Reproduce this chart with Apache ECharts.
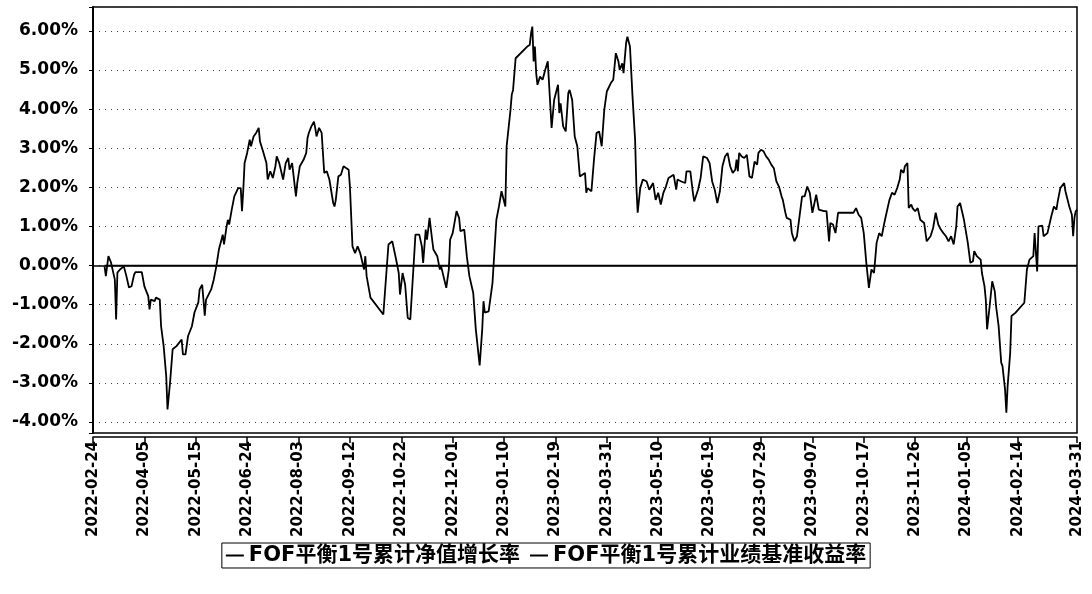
<!DOCTYPE html>
<html>
<head>
<meta charset="utf-8">
<script src="https://cdn.jsdelivr.net/npm/echarts@6/dist/echarts.min.js"></script>
<style>
    html, body { margin: 0; padding: 0; background: #fff; }
    #chart { width: 1092px; height: 594px; }
</style>
</head>
<body>
<div id="chart"></div>
<script>
// 日期以 2022-02-24 起算的天数表示
var startDate = '2022-02-24';
var endDay = 766; // 2024-03-31
var tickDays = 40;

var dayOffsets = [
    9, 10, 12, 14, 17, 18, 19, 21, 24, 26,
    28, 30, 32, 33, 38, 40, 43, 44, 45, 48,
    49, 52, 53, 55, 57, 58, 60, 62, 65, 69,
    70, 72, 74, 77, 79, 82, 83, 85, 86, 87,
    88, 92, 94, 96, 98, 100, 101, 102, 104, 105,
    106, 108, 110, 113, 115, 116, 117, 118, 120, 122,
    123, 125, 127, 129, 130, 132, 135, 136, 138, 140,
    142, 143, 145, 148, 150, 152, 153, 155, 156, 158,
    159, 161, 164, 166, 167, 168, 170, 172, 173, 174,
    176, 178, 180, 182, 184, 187, 188, 189, 191, 193,
    195, 199, 200, 202, 204, 206, 208, 211, 212, 213,
    216, 226, 230, 233, 236, 238, 239, 241, 243, 245,
    247, 250, 251, 254, 256, 257, 259, 260, 262, 264,
    265, 268, 270, 271, 275, 277, 278, 280, 283, 285,
    286, 289, 291, 293, 296, 298, 301, 303, 304, 305,
    308, 311, 314, 316, 318, 319, 321, 322, 325, 326,
    327, 329, 338, 340, 341, 342, 343, 344, 345, 346,
    348, 350, 352, 354, 355, 357, 359, 362, 363, 364,
    366, 368, 370, 371, 373, 375, 377, 379, 381, 383,
    384, 385, 388, 390, 392, 394, 396, 398, 400, 403,
    405, 407, 409, 410, 412, 413, 415, 416, 418, 420,
    422, 423, 424, 426, 428, 431, 433, 436, 438, 440,
    442, 444, 446, 448, 452, 454, 455, 458, 461, 462,
    465, 467, 468, 471, 473, 475, 478, 480, 482, 484,
    486, 488, 490, 492, 494, 496, 498, 500, 501, 502,
    503, 505, 507, 509, 511, 513, 515, 517, 518, 520,
    522, 524, 526, 528, 530, 532, 534, 536, 537, 539,
    540, 543, 544, 546, 548, 550, 552, 554, 556, 558,
    560, 563, 565, 569, 571, 573, 574, 576, 578, 580,
    592, 594, 596, 598, 600, 602, 604, 606, 608, 610,
    612, 614, 616, 618, 620, 622, 624, 626, 628, 629,
    631, 632, 634, 635, 637, 638, 640, 642, 644, 645,
    647, 649, 652, 654, 656, 658, 660, 662, 664, 666,
    668, 670, 672, 673, 675, 678, 681, 683, 685, 686,
    688, 691, 692, 694, 695, 696, 698, 700, 702, 703,
    705, 707, 708, 710, 711, 712, 714, 715, 718, 725,
    727, 729, 732, 733, 735, 736, 739, 740, 743, 746,
    748, 750, 751, 753, 756, 757, 760, 762, 763, 764,
    765, 766
];

// FOF平衡1号累计净值增长率 (%)
var navGrowth = [
    -0.02, -0.27, 0.24, 0.08, -0.36, -1.38, -0.18, -0.10, -0.02, -0.27,
    -0.56, -0.53, -0.23, -0.17, -0.17, -0.53, -0.78, -1.12, -0.87, -0.91,
    -0.82, -0.87, -1.55, -2.06, -2.83, -3.68, -2.99, -2.14, -2.06, -1.89,
    -2.27, -2.27, -1.80, -1.55, -1.20, -0.94, -0.61, -0.49, -0.53, -1.28,
    -0.87, -0.61, -0.36, -0.02, 0.41, 0.66, 0.79, 0.54, 1.00, 1.17,
    1.05, 1.43, 1.77, 1.98, 1.98, 1.39, 1.94, 2.62, 2.88, 3.22,
    3.05, 3.30, 3.39, 3.52, 3.17, 2.96, 2.62, 2.20, 2.41, 2.24,
    2.54, 2.79, 2.62, 2.20, 2.62, 2.75, 2.45, 2.62, 2.62, 1.77,
    2.11, 2.54, 2.71, 2.88, 3.26, 3.39, 3.56, 3.68, 3.52, 3.30,
    3.52, 3.39, 2.37, 2.41, 2.20, 1.60, 1.51, 1.68, 2.28, 2.32,
    2.54, 2.45, 2.02, 0.49, 0.32, 0.49, 0.32, -0.10, 0.24, -0.27,
    -0.82, -1.25, 0.54, 0.62, 0.15, -0.19, -0.74, -0.19, -0.49, -1.34,
    -1.38, 0.24, 0.79, 0.79, 0.49, 0.07, 0.92, 0.66, 1.22, 0.66,
    0.41, 0.24, -0.10, -0.02, -0.57, -0.10, 0.66, 0.83, 1.39, 1.22,
    0.88, 0.92, 0.24, -0.27, -0.70, -1.63, -2.55, -1.63, -0.91, -1.20,
    -1.17, -0.44, 1.17, 1.51, 1.90, 1.86, 1.51, 3.05, 3.98, 4.37,
    4.49, 5.30, 5.60, 5.64, 5.94, 6.11, 5.22, 5.60, 4.92, 4.62,
    4.83, 4.75, 5.00, 5.22, 4.66, 3.52, 4.24, 4.62, 3.90, 4.15,
    3.56, 3.43, 4.41, 4.49, 4.24, 3.30, 3.05, 2.28, 2.32, 2.37,
    1.86, 1.98, 1.90, 2.71, 3.39, 3.43, 3.05, 3.98, 4.45, 4.66,
    4.75, 5.43, 5.22, 5.00, 5.17, 4.92, 5.69, 5.85, 5.60, 4.32,
    3.22, 2.02, 1.35, 1.98, 2.20, 2.15, 1.94, 2.11, 1.68, 1.86,
    1.56, 1.86, 2.02, 2.24, 2.32, 1.94, 2.20, 2.15, 2.11, 2.41,
    2.41, 1.86, 1.64, 1.94, 2.24, 2.79, 2.75, 2.62, 2.15, 1.94,
    1.60, 1.90, 2.54, 2.79, 2.88, 2.54, 2.37, 2.45, 2.71, 2.41,
    2.88, 2.79, 2.75, 2.83, 2.28, 2.24, 2.66, 2.58, 2.88, 2.96,
    2.92, 2.79, 2.71, 2.58, 2.49, 2.15, 2.02, 1.77, 1.68, 1.35,
    1.22, 1.17, 0.83, 0.62, 0.75, 1.26, 1.77, 1.77, 2.02, 1.86,
    1.35, 1.81, 1.43, 1.39, 1.39, 0.62, 1.09, 1.05, 0.83, 1.35,
    1.35, 1.47, 1.30, 1.22, 0.83, 0.07, -0.57, -0.10, -0.19, 0.58,
    0.83, 0.75, 1.09, 1.39, 1.68, 1.86, 1.81, 1.98, 2.20, 2.45,
    2.37, 2.54, 2.62, 1.47, 1.56, 1.47, 1.39, 1.47, 1.17, 1.22,
    1.09, 0.62, 0.75, 0.96, 1.35, 1.05, 0.92, 0.83, 0.75, 0.62,
    0.75, 0.54, 1.00, 1.51, 1.60, 1.17, 0.58, 0.07, 0.11, 0.37,
    0.24, 0.15, -0.19, -0.53, -0.87, -1.63, -1.04, -0.40, -0.66, -1.04,
    -1.55, -2.48, -2.57, -3.17, -3.76, -3.08, -2.23, -1.29, -1.21, -0.95,
    -0.10, 0.15, 0.24, 0.83, -0.15, 1.00, 1.02, 0.75, 0.83, 1.26,
    1.51, 1.43, 1.64, 1.98, 2.11, 1.90, 1.51, 1.30, 0.75, 1.22,
    1.39, 1.43
];

// FOF平衡1号累计业绩基准收益率 (%)，整段为 0
var benchmarkValue = 0;

var seriesNames = ['FOF平衡1号累计净值增长率', 'FOF平衡1号累计业绩基准收益率'];
var yMin = -4.28, yMax = 6.61;

var axisFont = "'DejaVu Sans', sans-serif";

function dayToDate(d) {
    var base = Date.parse(startDate + 'T00:00:00Z');
    var dt = new Date(base + d * 86400000);
    var m = dt.getUTCMonth() + 1;
    var day = dt.getUTCDate();
    return dt.getUTCFullYear() + '-' + (m > 9 ? m : '0' + m) + '-' + (day > 9 ? day : '0' + day);
}

var navData = [], benchData = [];
for (var i = 0; i < dayOffsets.length; i++) {
    navData.push([dayOffsets[i], navGrowth[i]]);
    benchData.push([dayOffsets[i], benchmarkValue]);
}

var myChart = echarts.init(document.getElementById('chart'), null, { renderer: 'canvas' });
var option = {
    backgroundColor: '#fff',
    animation: false,
    color: ['#000', '#000'],
    grid: {
        left: 93,
        right: 15,
        top: 7,
        bottom: 161,
        show: true,
        borderColor: '#000',
        borderWidth: 1.5
    },
    legend: {
        data: seriesNames,
        left: 'center',
        top: 543,
        icon: 'rect',
        itemWidth: 18,
        itemHeight: 2,
        itemGap: 10,
        padding: [2, 4],
        borderColor: '#000',
        borderWidth: 1,
        textStyle: {
            color: '#000',
            fontSize: 21,
            fontWeight: 'bold',
            fontFamily: "'DejaVu Sans', 'Noto Sans CJK SC', sans-serif"
        }
    },
    xAxis: {
        type: 'value',
        min: 0,
        max: endDay,
        interval: tickDays,
        offset: 4,
        splitLine: { show: false },
        axisLine: { show: true, onZero: false, lineStyle: { color: '#000', width: 1.5 } },
        axisTick: { show: true, length: 6, lineStyle: { color: '#000', width: 1.5 } },
        axisLabel: {
            rotate: 90,
            margin: 4,
            color: '#000',
            fontSize: 15,
            fontWeight: 'bold',
            fontFamily: axisFont,
            showMinLabel: true,
            showMaxLabel: true,
            formatter: function(v) { return dayToDate(v); }
        }
    },
    yAxis: {
        type: 'value',
        min: yMin,
        max: yMax,
        splitNumber: 10,
        offset: 5,
        axisLine: { show: true, lineStyle: { color: '#000', width: 2 } },
        axisTick: { show: true, length: 4, lineStyle: { color: '#000' } },
        splitLine: {
            show: true,
            lineStyle: { color: '#444', width: 1, type: [1, 5] }
        },
        axisLabel: {
            margin: 10,
            color: '#000',
            fontSize: 17,
            fontWeight: 'bold',
            fontFamily: axisFont,
            formatter: function(v) {
                if (Math.abs(v - Math.round(v)) > 1e-6) return '';
                return v.toFixed(2) + '%';
            }
        }
    },
    series: [{
        name: seriesNames[0],
        type: 'line',
        data: navData,
        showSymbol: false,
        lineStyle: { color: '#000', width: 1.8 }
    }, {
        name: seriesNames[1],
        type: 'line',
        data: benchData,
        showSymbol: false,
        lineStyle: { color: '#000', width: 1.5 },
        markLine: {
            silent: true,
            symbol: 'none',
            label: { show: false },
            lineStyle: { color: '#000', width: 1.5, type: 'solid' },
            data: [{ yAxis: benchmarkValue }]
        }
    }]
};
myChart.setOption(option);
</script>
</body>
</html>
